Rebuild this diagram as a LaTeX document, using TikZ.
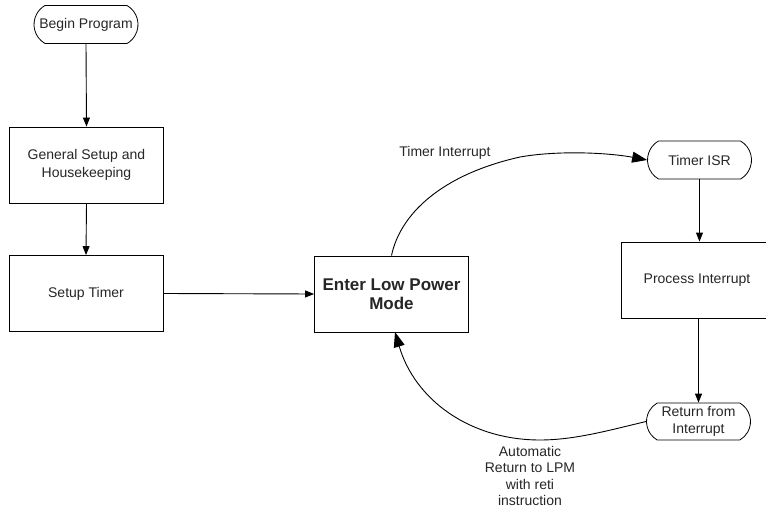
\documentclass[tikz,border=0pt]{standalone}
\usepackage{fontspec}
\setmainfont{Liberation Sans}
\usetikzlibrary{shapes.misc,arrows.meta}
\begin{document}
\begin{tikzpicture}[x=1pt,y=-1pt,
  every node/.style={font=\fontsize{14}{18}\selectfont, text=black!85},
  term/.style={draw, rounded rectangle, rounded rectangle arc length=120, line width=0.8pt, minimum width=104pt, minimum height=38pt, inner sep=0pt, align=center, font=\fontsize{14}{17}\selectfont},
  procbox/.style={draw, rectangle, line width=0.9pt, minimum width=154pt, minimum height=76pt, inner sep=0pt, align=center},
  flow/.style={line width=0.9pt, -{Triangle[length=9pt,width=7pt]}},
  curvy/.style={line width=0.9pt, -{Triangle[length=15pt,width=11pt]}},
  lbl/.style={align=center, font=\fontsize{14}{16.5}\selectfont}
]
\useasboundingbox (0,0) rectangle (766,508);
\clip (0,0) rectangle (766,508);

\node[term] (begin) at (86,24.5) {Begin Program};
\node[procbox] (gen) at (86.5,165) {General Setup and\\Housekeeping};
\node[procbox] (timer) at (86,293.5) {Setup Timer};
\node[procbox, font=\bfseries\fontsize{17}{19.5}\selectfont] (lpm) at (391.5,294) {Enter Low Power\\Mode};
\node[term] (isr) at (699.5,160) {Timer ISR};
\node[procbox, minimum width=152pt] (proc) at (697,280) {Process Interrupt};
\node[term, minimum height=37pt] (ret) at (698.5,421.5) {Return from\\Interrupt};

\node[lbl] (lblti) at (445,153) {Timer Interrupt};
\node[lbl] (lblret) at (530,476) {Automatic\\Return to LPM\\with reti\\instruction};

\draw[flow] (begin.south) -- (gen.north);
\draw[flow] (gen.south) -- (timer.north);
\draw[flow] (timer.east) -- (lpm.west);
\draw[flow] (isr.south) -- (proc.north -| isr.south);
\draw[flow] (proc.south -| ret.north) -- (ret.north);

\coordinate (topmid) at (520,157);
\coordinate (botmid) at (540,440);
\draw[curvy] (lpm.north) .. controls (400,215) and (440,175) .. (topmid)
  .. controls (560,150) and (610,153) .. (isr.west);
\draw[curvy] (ret.west) .. controls (610,430) and (575,440) .. (botmid)
  .. controls (470,440) and (415,400) .. (395,332);
\end{tikzpicture}
\end{document}
